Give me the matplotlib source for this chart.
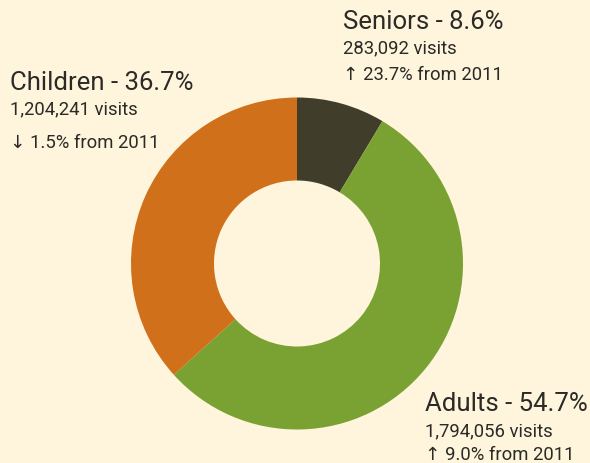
import numpy as np
import matplotlib
matplotlib.use("Agg")
import matplotlib.pyplot as plt

plt.rcParams['font.family'] = ['Roboto', 'DejaVu Sans']

# data
groups = ['Seniors', 'Adults', 'Children']
shares = [8.6, 54.7, 36.7]
visits = ['283,092', '1,794,056', '1,204,241']
changes = ['\u2191 23.7% from 2011', '\u2191 9.0% from 2011', '\u2193 1.5% from 2011']
colors = ['#403d2a', '#79a232', '#d0701b']
bg = '#fef5dc'
ink = '#2b2a26'

W, H = 590, 463
fig = plt.figure(figsize=(W / 100, H / 100), dpi=100, facecolor=bg)

# donut centred at (297, 263) px, outer radius 166 px
cx, cy, r = 297, 263.5, 166
ax = fig.add_axes([(cx - r) / W, (H - cy - r) / H, 2 * r / W, 2 * r / H])
ax.set_facecolor(bg)
ax.pie(shares, colors=colors, startangle=90, counterclock=False, radius=1,
       wedgeprops=dict(width=0.5, linewidth=0))
ax.set_xlim(-1, 1)
ax.set_ylim(-1, 1)
ax.set_aspect('equal')
ax.axis('off')

# label positions (left x, baselines of the three lines) in px
label_pos = {
    'Seniors': (343, [29, 53, 80]),
    'Adults': (425, [411, 436, 460]),
    'Children': (10, [90, 114, 148]),
}

for g, s, v, c in zip(groups, shares, visits, changes):
    x, ys = label_pos[g]
    fig.text(x / W, 1 - ys[0] / H, f'{g} - {s}%', fontsize=18.5, color=ink, va='baseline')
    fig.text(x / W, 1 - ys[1] / H, f'{v} visits', fontsize=13.3, color=ink, va='baseline')
    fig.text(x / W, 1 - ys[2] / H, c, fontsize=13.3, color=ink, va='baseline')

fig.savefig('out.png', dpi=100, facecolor=bg)
